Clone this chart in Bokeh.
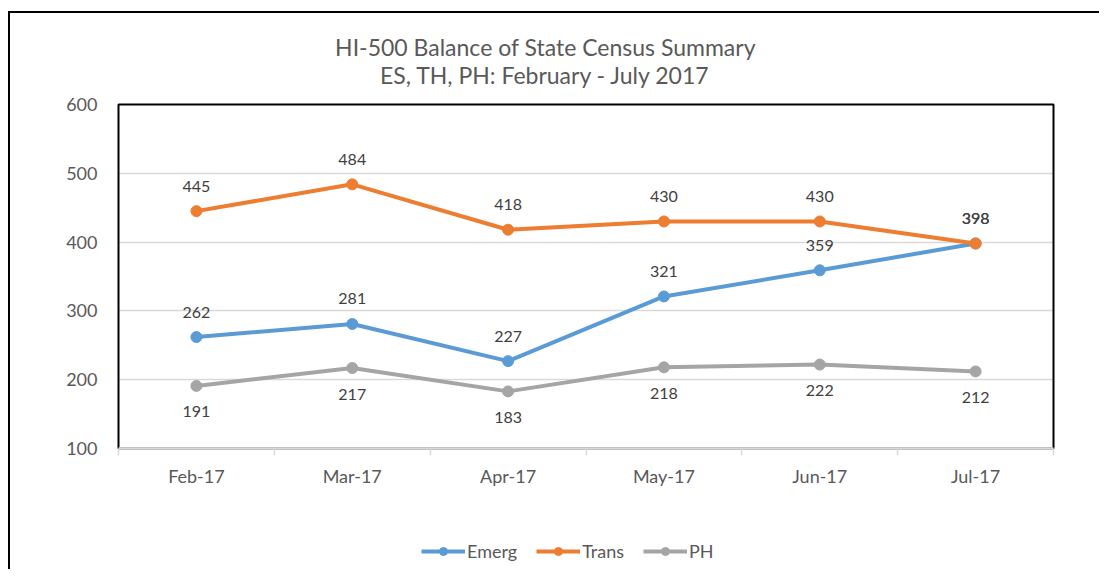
from bokeh.plotting import figure
from bokeh.models import (ColumnDataSource, Range1d, FixedTicker, LinearAxis, Legend, LegendItem,
                          LabelSet, Label, Grid, BoxAnnotation)
from bokeh.core.properties import value
from bokeh.embed import file_html
from bokeh.resources import INLINE

# ---- data ----
months = ["Feb-17", "Mar-17", "Apr-17", "May-17", "Jun-17", "Jul-17"]
emerg = [262, 281, 227, 321, 359, 398]
trans = [445, 484, 418, 430, 430, 398]
ph = [191, 217, 183, 218, 222, 212]
y_ticks = [100, 200, 300, 400, 500, 600]
title_lines = ["HI-500 Balance of State Census Summary", "ES, TH, PH: February - July 2017"]

FONT = "Lato"
C_EMERG = "#5B9BD5"
C_TRANS = "#ED7D31"
C_PH = "#A5A5A5"
TXT = "#595959"

# ---- layout (pixels) ----
W, H = 1099, 569
PA_L, PA_R, PA_T, PA_B = 118, 1053, 104, 448      # plot-area box on the canvas
n = len(months)
ymin, ymax = y_ticks[0], y_ticks[-1]
sx = (PA_R - PA_L) / n                 # px per category
sy = (PA_B - PA_T) / (ymax - ymin)     # px per unit


def px_x(px):
    return (px - PA_L) / sx


def px_y(py):
    return ymax + (PA_T - py) / sy


xs = [i + 0.5 for i in range(n)]

p = figure(width=W, height=H, output_backend="svg", toolbar_location=None,
           x_range=Range1d(px_x(0), px_x(W)), y_range=Range1d(px_y(H), px_y(0)),
           x_axis_location=None, y_axis_location=None,
           min_border_left=0, min_border_right=0, min_border_top=0, min_border_bottom=0,
           outline_line_color=None, border_fill_alpha=0, background_fill_alpha=0)
p.xgrid.visible = False
p.ygrid.visible = False
# outer chart border (left and top edges) drawn as inset shadows, no layout effect
p.styles = {"box-shadow": "inset 8px 11px 0 0 white, inset 10px 13px 0 0 black",
            "background-color": "white"}

grid = Grid(dimension=1, ticker=FixedTicker(ticks=y_ticks[1:-1]), cross_bounds=(0, n),
            grid_line_color="#D9D9D9", grid_line_width=1.5)
p.add_layout(grid)

# plot-area border (left, top, right black; bottom is covered by the grey axis)
p.add_layout(BoxAnnotation(left=0, right=n, bottom=ymin, top=ymax, fill_alpha=0,
                           line_color="black", line_alpha=1.0, line_width=2, level="underlay"))

xax = LinearAxis(fixed_location=ymin, bounds=(0, n),
                 ticker=FixedTicker(ticks=xs, minor_ticks=list(range(n + 1))),
                 major_label_overrides={x: m for x, m in zip(xs, months)},
                 major_tick_line_color=None, major_tick_out=7, major_tick_in=0,
                 minor_tick_in=0, minor_tick_out=7, minor_tick_line_color="#D9D9D9",
                 minor_tick_line_width=1.5, axis_line_color="#D9D9D9", axis_line_width=2.6,
                 major_label_text_font=FONT, major_label_text_font_size="18px",
                 major_label_text_color=TXT, major_label_standoff=9)
p.add_layout(xax, "below")

yax = LinearAxis(fixed_location=0, bounds=(ymin, ymax), ticker=FixedTicker(ticks=y_ticks),
                 major_tick_line_color=None, minor_tick_line_color=None, axis_line_color=None,
                 major_tick_out=0, major_tick_in=0,
                 major_label_text_font=FONT, major_label_text_font_size="18px",
                 major_label_text_color=TXT, major_label_standoff=21)
p.add_layout(yax, "left")

# titles
for txt, py in zip(title_lines, (46, 74)):
    p.add_layout(Label(x=px_x(545), y=px_y(py), text=txt, text_align="center",
                       text_baseline="middle", text_font=FONT, text_font_size="23px",
                       text_color=TXT))

items = []
for name, vals, col, off in (("Emerg", emerg, C_EMERG, 25), ("Trans", trans, C_TRANS, 25),
                             ("PH", ph, C_PH, -26)):
    src = ColumnDataSource(dict(x=xs, y=vals, label=[str(v) for v in vals]))
    ln = p.line("x", "y", source=src, line_color=col, line_width=4)
    sc = p.scatter("x", "y", source=src, size=11, fill_color=col, line_color=col)
    lbl = LabelSet(x="x", y="y", text="label", source=src, y_offset=off, text_align="center",
                   text_baseline="middle", text_font=value(FONT), text_font_size=value("16px"),
                   text_color=value("#404040"))
    p.add_layout(lbl)
    items.append(LegendItem(label=name, renderers=[ln, sc]))

legend = Legend(items=items, orientation="horizontal", location=(421, H - 562),
                border_line_color=None, background_fill_alpha=0, glyph_width=44, glyph_height=20,
                label_text_font=FONT, label_text_font_size="18px", label_text_color=TXT,
                spacing=19, padding=0, margin=0, label_standoff=2)
p.add_layout(legend)

open("out.html", "w").write(file_html(p, INLINE))
